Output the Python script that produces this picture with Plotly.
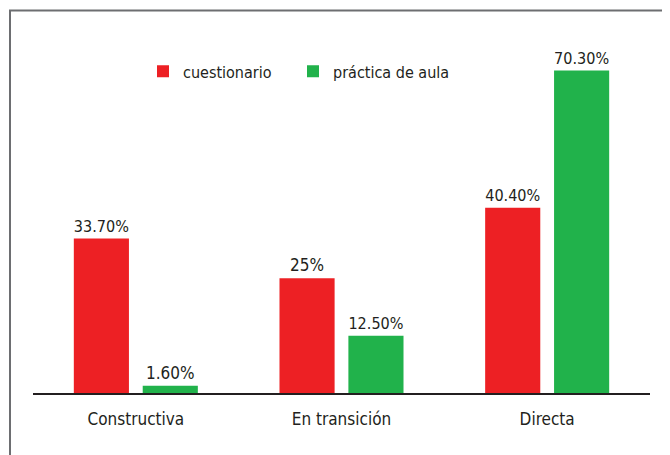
import plotly.graph_objects as go

categories = ["Constructiva", "En transición", "Directa"]
cuestionario = [33.7, 25.0, 40.4]
practica = [1.6, 12.5, 70.3]
cuest_labels = ["33.70%", "25%", "40.40%"]
prac_labels = ["1.60%", "12.50%", "70.30%"]

FONT = "DejaVu Sans Condensed, Liberation Sans Narrow, Roboto, sans-serif"
RED = "#ED2024"
GREEN = "#21B24B"
INK = "#231F20"

# the page body has an 8px default margin; work in screen pixels
OFF = 8
W, H = 670, 455
L = 33 - OFF
T = 25.5 - OFF
plot_bottom = 393.5 - OFF
R = W - (650 - OFF)
B = H - plot_bottom
pw = W - L - R
ph = H - T - B

def px2x(p):
    return (p - OFF - L) / pw

def py2y(p):
    return (plot_bottom - (p - OFF)) / ph

fig = go.Figure()
fig.add_trace(go.Bar(x=categories, y=cuestionario, name="cuestionario",
                     marker=dict(color=RED, line=dict(width=0)),
                     text=cuest_labels, textposition="outside", cliponaxis=False,
                     textfont=dict(family=FONT, size=17, color=INK), legend="legend"))
fig.add_trace(go.Bar(x=categories, y=practica, name="práctica de aula",
                     marker=dict(color=GREEN, line=dict(width=0)),
                     text=prac_labels, textposition="outside", cliponaxis=False,
                     textfont=dict(family=FONT, size=17, color=INK), legend="legend2"))

leg_common = dict(orientation="h", xanchor="left", yanchor="middle",
                  font=dict(family=FONT, size=16, color=INK),
                  bgcolor="rgba(0,0,0,0)", itemwidth=30)

fig.update_layout(
    width=W, height=H,
    margin=dict(l=L, r=R, t=T, b=B, pad=0),
    paper_bgcolor="white", plot_bgcolor="white",
    barmode="group", bargap=0.33, bargroupgap=0.2,
    showlegend=True,
    legend=dict(x=px2x(143), y=py2y(71), **leg_common),
    legend2=dict(x=px2x(293), y=py2y(71), **leg_common),
    font=dict(family=FONT, color=INK),
    xaxis=dict(showline=True, linecolor=INK, linewidth=2, ticks="",
               tickfont=dict(family=FONT, size=17, color=INK), showgrid=False,
               zeroline=False, ticklabelstandoff=10),
    yaxis=dict(visible=False, range=[0, 80], showgrid=False, zeroline=False),
    shapes=[
        dict(type="line", xref="paper", yref="paper", x0=px2x(10), x1=px2x(10),
             y0=py2y(10), y1=py2y(470), line=dict(color="#6D6E71", width=2)),
        dict(type="line", xref="paper", yref="paper", x0=px2x(9), x1=px2x(690),
             y0=py2y(10), y1=py2y(10), line=dict(color="#6D6E71", width=2)),
    ],
)

fig.write_html("out.html")
